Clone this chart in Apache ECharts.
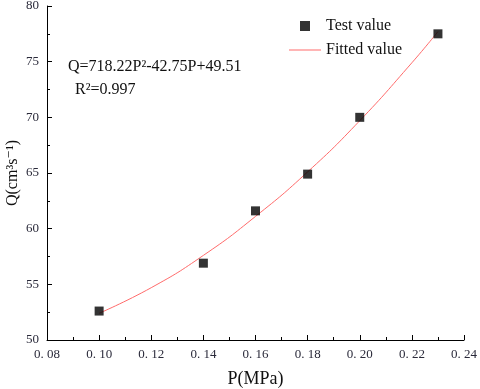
<!DOCTYPE html>
<html>
<head>
<meta charset="utf-8">
<script src="https://cdn.jsdelivr.net/npm/echarts@6/dist/echarts.min.js"></script>
<style>
  html, body { margin: 0; padding: 0; background: #fff; }
  #chart { width: 480px; height: 389px; }
</style>
</head>
<body>
<div id="chart"></div>
<script>
// test points
const testP = [0.10, 0.14, 0.16, 0.18, 0.20, 0.23];
const testQ = [52.6, 56.9, 61.6, 64.9, 70.0, 77.5];

// points along the fitted curve
const fitP = [0.10, 0.12, 0.14, 0.16, 0.18, 0.20, 0.22, 0.23];
const fitQ = [52.4, 54.7, 57.6, 61.1, 65.1, 69.7, 74.9, 77.7];

const equationText = "Q=718.22P²-42.75P+49.51";
const r2Text = "R²=0.997";

const serif = "'Liberation Serif', 'DejaVu Serif', serif";

const chart = echarts.init(document.getElementById("chart"));

const option = {
  backgroundColor: "#fff",
  animation: false,
  grid: {
    left: 47,
    right: 16,
    top: 6,
    bottom: 49,
    containLabel: false,
    outerBoundsMode: "none",
  },
  legend: {
    orient: "vertical",
    left: 284,
    top: 13,
    itemWidth: 32,
    itemHeight: 10,
    itemGap: 8,
    symbolKeepAspect: true,
    textStyle: {
      fontFamily: serif,
      fontSize: 16,
      color: "#111",
    },
    data: [
      { name: "Test value", icon: "path://M0,0L10,0L10,10L0,10Z", itemStyle: { color: "#000" } },
      { name: "Fitted value", icon: "path://M0,0L32,0L32,1L0,1Z", itemStyle: { color: "#ff6b6b" } },
    ],
  },
  xAxis: {
    type: "value",
    min: 0.08,
    max: 0.24,
    interval: 0.02,
    name: "P(MPa)",
    nameLocation: "middle",
    nameGap: 30,
    nameMoveOverlap: false,
    nameTextStyle: {
      fontFamily: serif,
      fontSize: 18,
      color: "#111",
    },
    axisLine: { lineStyle: { color: "#000", width: 1 } },
    axisTick: { inside: true, length: 5, lineStyle: { color: "#000" } },
    minorTick: { show: true, splitNumber: 2, length: 3, lineStyle: { color: "#000" } },
    splitLine: { show: false },
    axisLabel: {
      fontFamily: serif,
      fontSize: 13,
      color: "#2a2a3a",
      margin: 8,
      formatter: (v) => v.toFixed(2).replace(".", ". "),
    },
  },
  yAxis: {
    type: "value",
    min: 50,
    max: 80,
    interval: 5,
    name: "Q(cm³s⁻¹)",
    nameLocation: "middle",
    nameGap: 26,
    nameMoveOverlap: false,
    nameTextStyle: {
      fontFamily: serif,
      fontSize: 16,
      color: "#111",
    },
    axisLine: { show: true, lineStyle: { color: "#000", width: 1 } },
    axisTick: { show: true, inside: true, length: 5, lineStyle: { color: "#000" } },
    minorTick: { show: true, splitNumber: 2, length: 3, lineStyle: { color: "#000" } },
    splitLine: { show: false },
    axisLabel: {
      fontFamily: serif,
      fontSize: 13,
      color: "#2a2a3a",
      margin: 8,
    },
  },
  graphic: [
    {
      type: "text",
      left: 68,
      top: 59,
      style: {
        text: equationText,
        font: "16px " + serif,
        fill: "#111",
      },
    },
    {
      type: "text",
      left: 75,
      top: 82,
      style: {
        text: r2Text,
        font: "16px " + serif,
        fill: "#111",
      },
    },
  ],
  series: [
    {
      name: "Fitted value",
      type: "line",
      smooth: true,
      symbol: "none",
      lineStyle: { color: "#ff6b6b", width: 1 },
      itemStyle: { color: "#ff6b6b" },
      data: fitP.map((p, i) => [p, fitQ[i]]),
      z: 1,
    },
    {
      name: "Test value",
      type: "scatter",
      symbol: "rect",
      symbolSize: 9,
      itemStyle: { color: "#000" },
      data: testP.map((p, i) => [p, testQ[i]]),
      z: 2,
    },
  ],
};

chart.setOption(option);
</script>
</body>
</html>
